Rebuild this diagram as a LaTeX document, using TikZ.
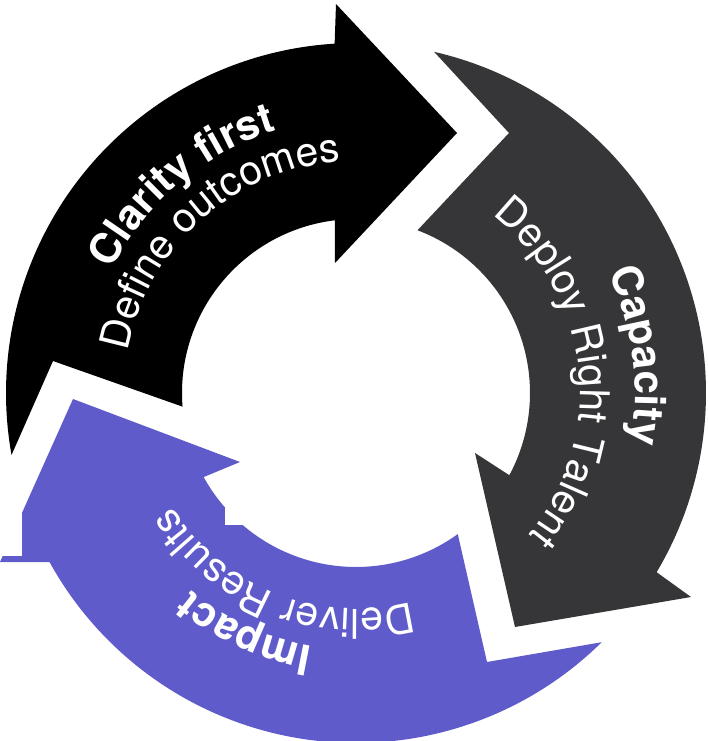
\documentclass[tikz,border=0pt]{standalone}
\usepackage{fontspec}
\setmainfont{TeX Gyre Heros}
\usetikzlibrary{decorations.text}
\definecolor{ringblack}{HTML}{000000}
\definecolor{ringgray}{HTML}{363638}
\definecolor{ringpurple}{HTML}{5F5BCB}
\newcommand\boldlabel{\fontsize{42}{50}\selectfont\bfseries}
\newcommand\lightlabel{\fontsize{41}{50}\selectfont}

\begin{document}
\begin{tikzpicture}[x=1pt,y=1pt,
  curvedtext/.style={decorate,decoration={text along path,text align=center,text color=white,text={#1}}}]
\useasboundingbox (-356,-348) rectangle (352,393);
\clip (-356,-348) rectangle (352,393);

\fill [ringblack] (190.2:350) -- (-303,32) -- (184.5:174) arc[start angle=184.5,end angle=97,radius=174] -- (-21,130) -- (101,260) -- (-20,389) -- (93.5:350) arc[start angle=93.5,end angle=190.2,radius=350] -- cycle;
\fill [ringgray] (77.1:350) -- (153,260) -- (69.3:174) arc[start angle=69.3,end angle=-28.2,radius=174] -- (119,-60) -- (159,-234) -- (335,-204) -- (-30.8:350) arc[start angle=-30.8,end angle=77.1,radius=350] -- cycle;
\fill [ringpurple] (-45.4:350) -- (131,-269) -- (-54.2:174) arc[start angle=-54.2,end angle=-151.1,radius=174] -- (-116,-69) -- (-283,-6) -- (-356,-169) -- (-151.1:350) arc[start angle=-151.1,end angle=-45.4,radius=350] -- cycle;
\fill [white] (-356,-163) rectangle (-334,-115);
\fill [white] (-131,-132) rectangle (-113,-115);

\path [curvedtext={|\boldlabel|Clarity first}] (190:274) arc[start angle=190,end angle=70,radius=274];
\path [curvedtext={|\lightlabel|Define outcomes}] (191.75:232) arc[start angle=191.75,end angle=71.75,radius=232];
\path [curvedtext={|\boldlabel|Capacity}] (67.6:279) arc[start angle=67.6,end angle=-52.4,radius=279];
\path [curvedtext={|\lightlabel|Deploy Right Talent}] (66.5:224) arc[start angle=66.5,end angle=-53.5,radius=224];
\path [curvedtext={|\boldlabel|Impact}] (305.1:257) arc[start angle=305.1,end angle=185.1,radius=257];
\path [curvedtext={|\lightlabel|Deliver Results}] (308.3:216) arc[start angle=308.3,end angle=188.3,radius=216];
\end{tikzpicture}
\end{document}
